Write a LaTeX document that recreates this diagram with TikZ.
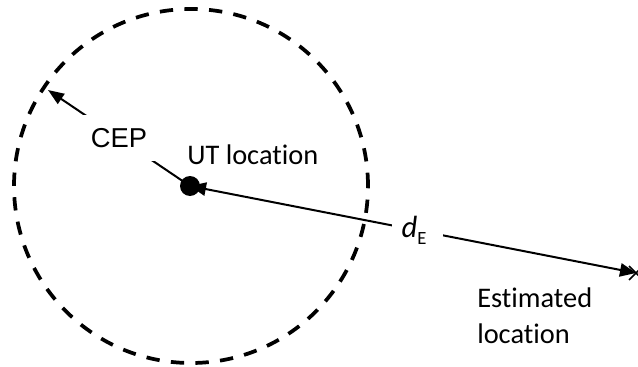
\documentclass[tikz,border=0pt]{standalone}
\usepackage{fontspec}
\setmainfont{Carlito}[Ligatures={NoCommon,NoRare,NoDiscretionary}]
\newfontfamily\arialf{Liberation Sans}
\usetikzlibrary{arrows.meta}
\begin{document}
\begin{tikzpicture}[x=0.75pt,y=-0.75pt,
  cepcircle/.style={line width=2.8pt,dash pattern=on 10pt off 8.5pt},
  arr/.style={line width=1.5pt},
  dot/.style={circle,fill=black,inner sep=0pt,minimum size=15pt},
  lbl/.style={font=\fontsize{21.3}{26.5}\selectfont,inner sep=0pt},
  ceplbl/.style={font=\arialf\fontsize{20.5}{24}\selectfont,fill=white,inner sep=0pt,minimum width=66pt,minimum height=34pt},
  delbl/.style={font=\fontsize{23}{26}\selectfont,fill=white,inner sep=0pt,minimum width=38pt,minimum height=14pt}]
\useasboundingbox (0,0) rectangle (638,367);
\coordinate (ut) at (190,186);
\coordinate (cepend) at (48,90);
\coordinate (est) at (636,273);
% CEP circle
\draw[cepcircle] (191,186) circle[radius=132.75pt];
% CEP radius arrow
\draw[arr,-{Triangle[length=12pt,width=9pt]}] (ut) -- node[ceplbl,pos=0.5] (cep) {CEP} (cepend);
% distance arrow
\draw[arr,{Triangle[length=12pt,width=10pt]}-{Triangle[length=12pt,width=10pt]}] (ut) -- node[delbl,pos=0.51] (de) {\itshape d\/\upshape\raisebox{-0.45ex}{\fontsize{14}{14}\selectfont E}\kern5pt} (est);
% estimate marker
\draw[line width=1.2pt] (est) +(-7,-7) -- +(7,7) (est) +(-7,7) -- +(7,-7);
% UT dot
\node[dot] (utdot) at (ut) {};
% labels
\node[lbl,anchor=base west] (utlbl) at (187,164) {UT location};
\node[lbl,anchor=base west,align=left] (estlbl) at (477,343) {Estimated\\location};
\end{tikzpicture}
\end{document}
